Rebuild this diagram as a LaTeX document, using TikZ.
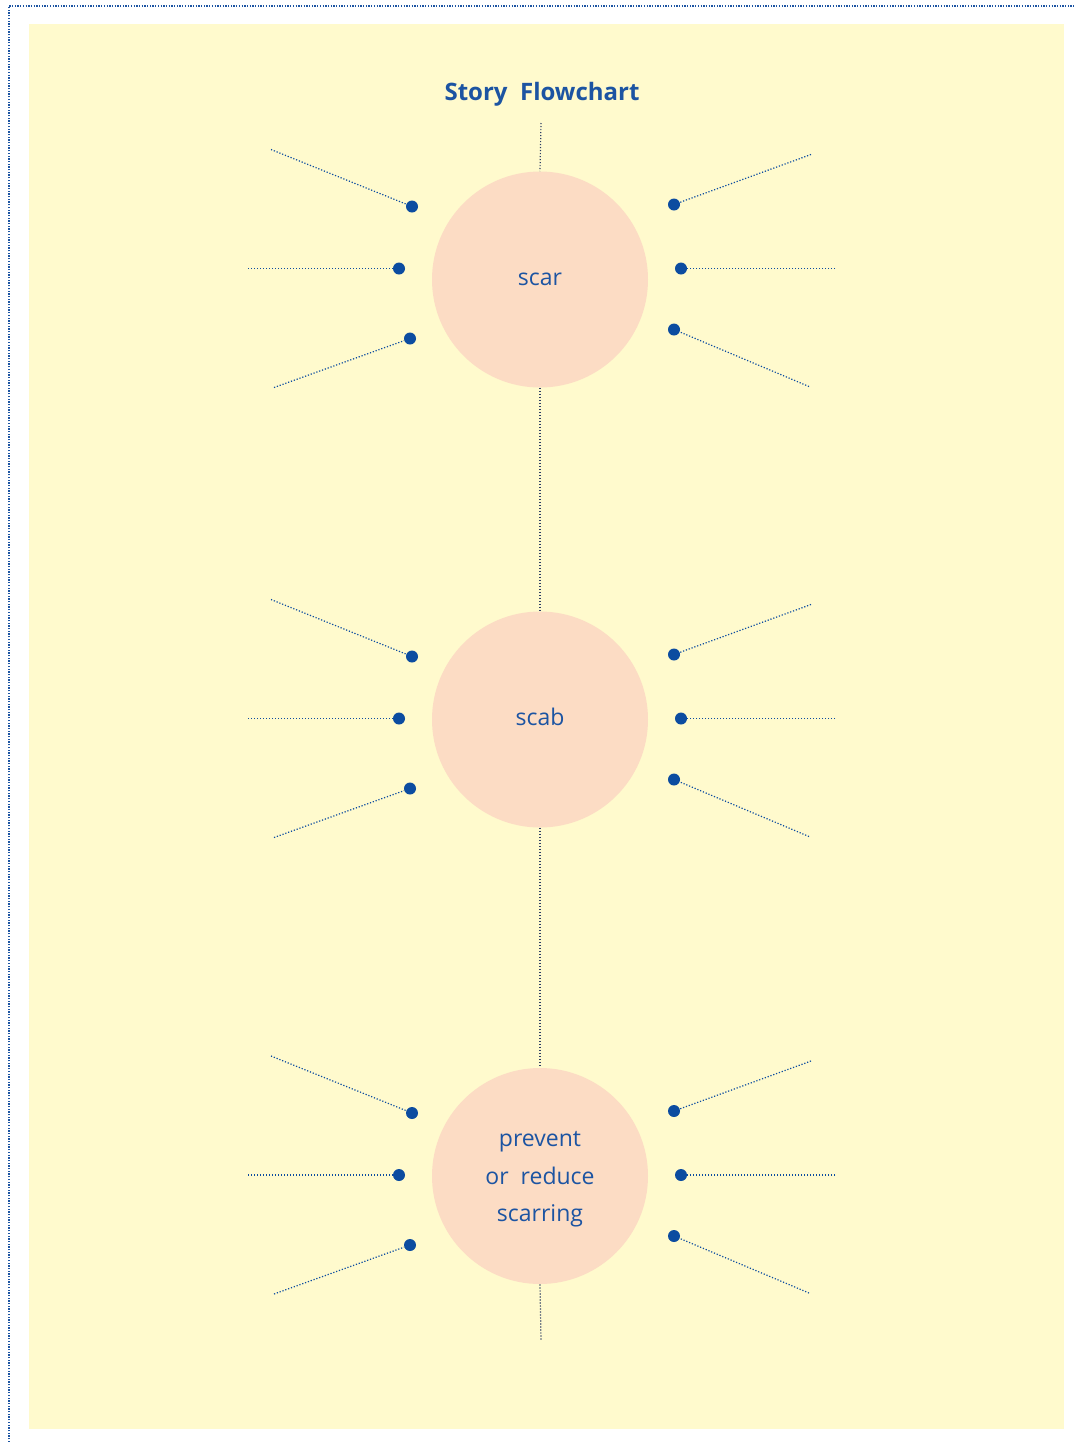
\documentclass[tikz,border=0pt]{standalone}
\usepackage{fontspec}
\setmainfont{Open Sans}
\usetikzlibrary{positioning}
\definecolor{PageYellow}{RGB}{255,250,205}
\definecolor{StagePeach}{RGB}{252,220,196}
\definecolor{InkBlue}{RGB}{28,84,162}
\definecolor{PinBlue}{RGB}{12,76,160}
\definecolor{StemNavy}{RGB}{45,62,100}

\begin{document}
\begin{tikzpicture}[x=0.5pt, y=-0.5pt,
		stage/.style={circle, fill=StagePeach, minimum size=108pt, inner sep=0pt, align=center, text=InkBlue, font=\fontsize{11.5}{18.75}\selectfont},
		pin/.style={circle, fill=PinBlue, minimum size=6pt, inner sep=0pt},
		spoke/.style={PinBlue, line width=0.6pt, dash pattern=on 0.6pt off 0.9pt},
		stem/.style={StemNavy, line width=0.6pt, dash pattern=on 0.6pt off 0.9pt},
		frame/.style={InkBlue, line width=0.65pt, dash pattern=on 0.65pt off 0.7pt}]
	\useasboundingbox (0,0) rectangle (1075,1442);
	\draw[frame] (9,1442) -- (9,6) -- (1075,6);
	\fill[PageYellow] (29,24) rectangle (1064,1429);
	\node[text=InkBlue, font=\fontsize{12}{14}\selectfont\bfseries] (title) at (542,94) {Story\ \ Flowchart};
	% the three stages
	\node[stage] (scar) at (540,279.5) {scar};
	\node[stage] (scab) at (540,719.5) {\rule[-3pt]{0pt}{3pt}scab};
	\node[stage] (prevent) at (540,1176) {\rule{0pt}{11pt}prevent\\or\ \ reduce\\scarring};
	% stem through the stages
	\coordinate (top) at (541,123);
	\coordinate (bottom) at (541,1340);
	\draw[stem] (top) -- (scar.north);
	\draw[stem] (scar.south) -- (scab.north);
	\draw[stem] (scab.south) -- (prevent.north);
	\draw[stem] (prevent.south) -- (bottom);
	% spokes: pin offset / free end offset from the middle of each group
	\foreach \name/\cy in {scar/269.5, scab/719.5, prevent/1176} {
		\foreach \dx/\dy/\ex/\ey [count=\i] in {-128/-63/-269/-120, -141/-1/-292/-1, -130/69/-266/118,
				134/-65/271/-115, 141/-1/295/-1, 134/60/269/117} {
			\node[pin] (\name-pin\i) at (540+\dx,\cy+\dy) {};
			\coordinate (\name-end\i) at (540+\ex,\cy+\ey);
			\draw[spoke] (\name-end\i) -- (\name-pin\i);
		}
	}
\end{tikzpicture}
\end{document}
